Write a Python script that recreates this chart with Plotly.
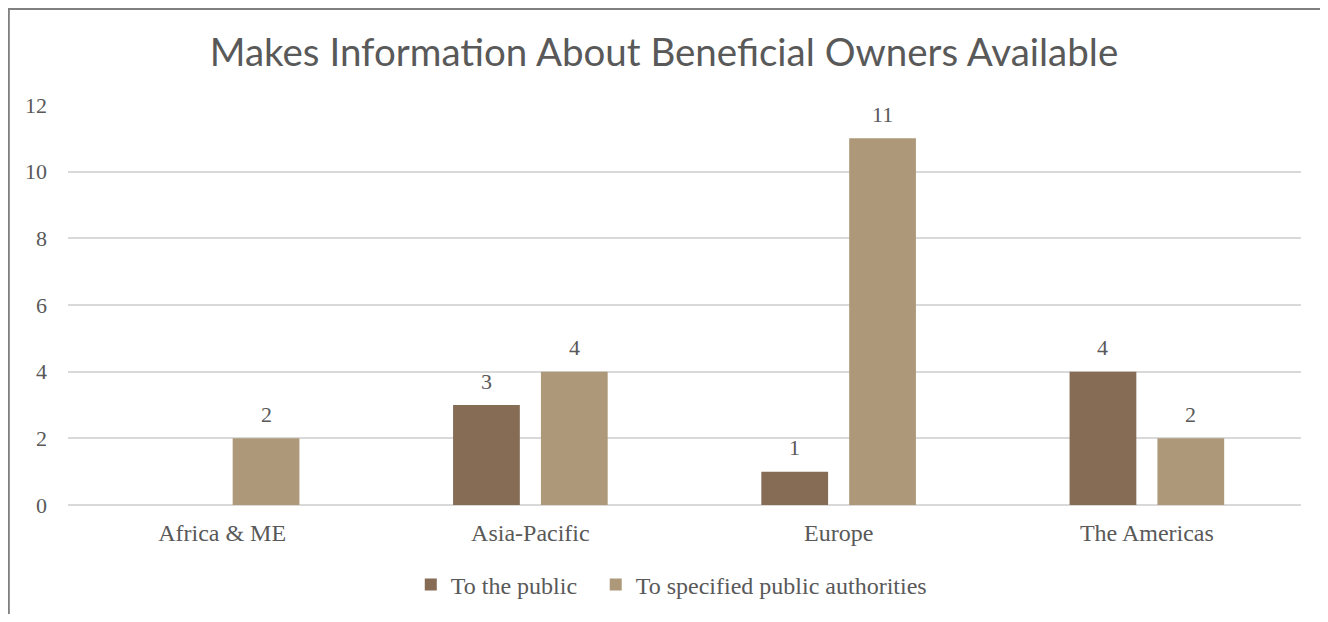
import plotly.graph_objects as go

# Data
regions = ["Africa & ME", "Asia-Pacific", "Europe", "The Americas"]
to_public = [0, 3, 1, 4]
to_authorities = [2, 4, 11, 2]
series_names = ["To the public", "To specified public authorities"]
y_ticks = [0, 2, 4, 6, 8, 10, 12]

DARK = "#866B55"
LIGHT = "#AD997A"
TEXT = "#595959"
SERIF = "Liberation Serif, Times New Roman, serif"

# page body has an 8px margin, so the figure starts at (8, 8)
FIG_W = 1312
MARGIN = dict(l=60, r=19, t=97, b=109, autoexpand=False)
BARGAP = 0.43
BARGROUPGAP = 0.24

fig = go.Figure()
series = [
    (series_names[0], to_public, DARK, "legend"),
    (series_names[1], to_authorities, LIGHT, "legend2"),
]
for name, vals, color, leg in series:
    fig.add_trace(
        go.Bar(
            x=regions,
            y=vals,
            name=name,
            legend=leg,
            showlegend=True,
            marker=dict(color=color, line=dict(width=0)),
            hoverinfo="x+y+name",
        )
    )

# value labels (Excel hides the zero one), placed over each bar of the group
plot_w = FIG_W - MARGIN["l"] - MARGIN["r"]
slot = plot_w / len(regions) * (1 - BARGAP) / len(series)
annotations = []
for i, (name, vals, color, leg) in enumerate(series):
    shift = (i - (len(series) - 1) / 2) * slot
    for reg, v in zip(regions, vals):
        if not v:
            continue
        annotations.append(
            dict(
                x=reg,
                y=v,
                xref="x",
                yref="y",
                text=str(v),
                showarrow=False,
                xshift=shift,
                yshift=24,
                yanchor="middle",
                font=dict(family=SERIF, size=22, color=TEXT),
            )
        )

legend_style = dict(
    orientation="h",
    xanchor="left",
    y=-0.2,
    yanchor="middle",
    font=dict(family=SERIF, size=24, color=TEXT),
    itemwidth=30,
    bgcolor="rgba(0,0,0,0)",
)

fig.update_layout(
    autosize=True,
    showlegend=True,
    margin=MARGIN,
    paper_bgcolor="white",
    plot_bgcolor="white",
    barmode="group",
    bargap=BARGAP,
    bargroupgap=BARGROUPGAP,
    title=dict(
        text="Makes Information About Beneficial Owners Available",
        x=0.5,
        xanchor="center",
        y=0.927,
        yanchor="middle",
        font=dict(family="Lato, sans-serif", size=38.5, color=TEXT),
    ),
    xaxis=dict(
        showgrid=False,
        showline=False,
        ticks="",
        ticklabelstandoff=11,
        tickfont=dict(family=SERIF, size=24, color=TEXT),
    ),
    yaxis=dict(
        range=[0, 12],
        tickvals=y_ticks,
        gridcolor="#D9D9D9",
        gridwidth=1.5,
        zeroline=True,
        zerolinecolor="#D9D9D9",
        zerolinewidth=1.5,
        showline=False,
        ticks="",
        ticklabelstandoff=20,
        tickfont=dict(family=SERIF, size=22, color=TEXT),
    ),
    legend=dict(legend_style, x=0.278),
    legend2=dict(legend_style, x=0.428),
    annotations=annotations,
    shapes=[
        dict(
            type="rect",
            xref="paper",
            yref="paper",
            x0=-0.048,
            x1=1.2,
            y0=-0.6,
            y1=1.24,
            line=dict(color="#808080", width=2),
            fillcolor="rgba(0,0,0,0)",
            layer="below",
        )
    ],
)

fig.write_html("out.html")
